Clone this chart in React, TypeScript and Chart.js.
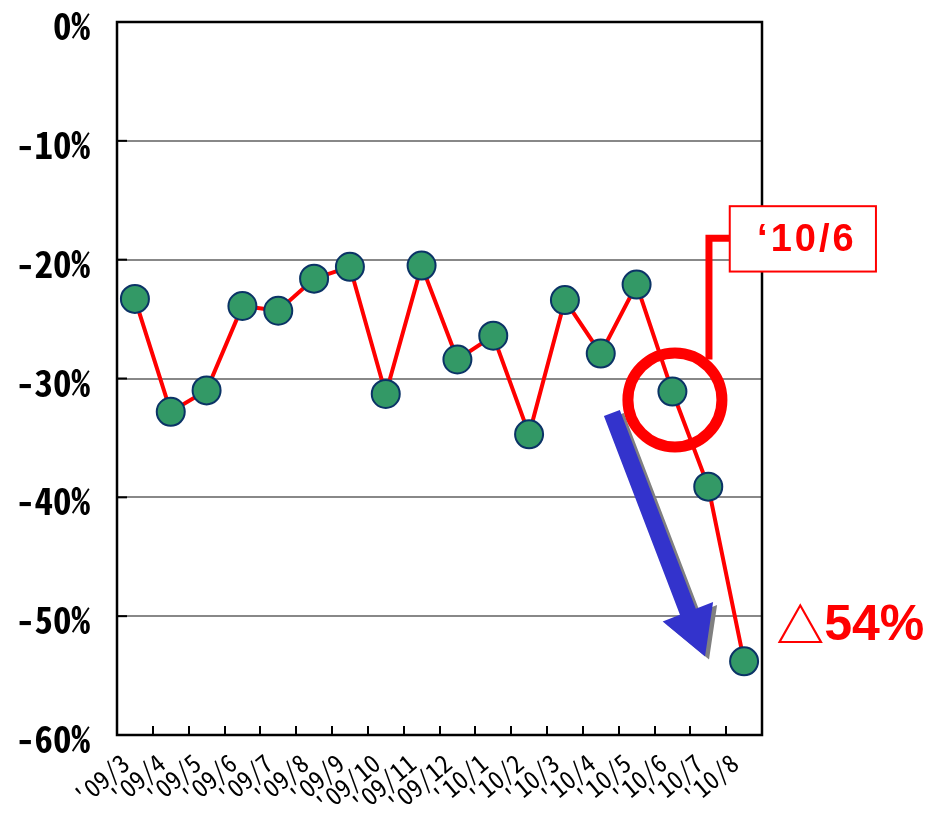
import React, { useEffect, useRef } from "react";
import { Chart, registerables } from "chart.js";

Chart.register(...registerables);

const categories = [
  "'09/3", "'09/4", "'09/5", "'09/6", "'09/7", "'09/8", "'09/9", "'09/10", "'09/11",
  "'09/12", "'10/1", "'10/2", "'10/3", "'10/4", "'10/5", "'10/6", "'10/7", "'10/8",
];
const values = [
  -23.3, -32.8, -31.0, -23.9, -24.3, -21.6, -20.6, -31.3, -20.5,
  -28.4, -26.4, -34.7, -23.4, -27.9, -22.1, -31.1, -39.1, -53.8,
];
const yTickValues = [0, -10, -20, -30, -40, -50, -60];
const yTickLabels = ["0%", "-10%", "-20%", "-30%", "-40%", "-50%", "-60%"];
const calloutLabel = "\u201810/6";
const dropLabel = "\u25B354%";

// annotation anchors in data space (category index, value)
const circleCenter = [15.07, -31.8];
const connectorPath = [[16.02, -28.4], [16.02, -18.2], [16.6, -18.2]];
const calloutBox = [16.6, -15.5, 20.68, -21.0];
const arrowStart = [13.31, -32.9];
const arrowTip = [15.91, -53.4];
const dropLabelAnchor = [17.95, -52.0];

const MONO = "'Noto Sans Mono CJK JP', 'DejaVu Sans Mono', monospace";

const overlay = {
  id: "overlay",
  beforeDatasetsDraw(chart: any) {
    const { ctx, chartArea, scales } = chart;
    const { left, right, top, bottom } = chartArea;
    const x = scales.x;
    const y = scales.y;
    ctx.save();
    ctx.strokeStyle = "#000";
    ctx.lineWidth = 2;
    for (let i = 1; i < categories.length; i++) {
      const px = Math.round((x.getPixelForValue(i - 1) + x.getPixelForValue(i)) / 2);
      ctx.beginPath();
      ctx.moveTo(px, bottom);
      ctx.lineTo(px, bottom - 9);
      ctx.stroke();
    }
    for (const v of yTickValues) {
      const py = y.getPixelForValue(v);
      ctx.beginPath();
      ctx.moveTo(left, py);
      ctx.lineTo(left + 10, py);
      ctx.stroke();
    }
    ctx.lineWidth = 2.5;
    ctx.strokeRect(left, top, right - left, bottom - top);
    ctx.restore();
  },
  afterDatasetsDraw(chart: any) {
    const { ctx, scales } = chart;
    const x = scales.x;
    const y = scales.y;
    const P = (p: number[]) => [x.getPixelForValue(p[0]), y.getPixelForValue(p[1])];
    ctx.save();

    // blue arrow with gray shadow
    const [sx, sy] = P(arrowStart);
    const [tx, ty] = P(arrowTip);
    const dx = tx - sx, dy = ty - sy;
    const len = Math.hypot(dx, dy);
    const ux = dx / len, uy = dy / len;
    const nx = -uy, ny = ux;
    const shaftW = 17, headW = 54, headL = 48;
    const bx = tx - ux * headL, by = ty - uy * headL;
    const poly = (ox: number, oy: number) => {
      ctx.beginPath();
      ctx.moveTo(sx + nx * shaftW / 2 + ox, sy + ny * shaftW / 2 + oy);
      ctx.lineTo(bx + nx * shaftW / 2 + ox, by + ny * shaftW / 2 + oy);
      ctx.lineTo(bx + nx * headW / 2 + ox, by + ny * headW / 2 + oy);
      ctx.lineTo(tx + ox, ty + oy);
      ctx.lineTo(bx - nx * headW / 2 + ox, by - ny * headW / 2 + oy);
      ctx.lineTo(bx - nx * shaftW / 2 + ox, by - ny * shaftW / 2 + oy);
      ctx.lineTo(sx - nx * shaftW / 2 + ox, sy - ny * shaftW / 2 + oy);
      ctx.closePath();
      ctx.fill();
    };
    ctx.fillStyle = "#808080";
    poly(4, 3);
    ctx.fillStyle = "#3333CC";
    poly(0, 0);

    // red circle
    const [cx, cy] = P(circleCenter);
    ctx.strokeStyle = "#FF0000";
    ctx.lineWidth = 11;
    ctx.beginPath();
    ctx.arc(cx, cy, 47, 0, Math.PI * 2);
    ctx.stroke();

    // connector
    ctx.lineWidth = 7;
    ctx.lineJoin = "miter";
    ctx.beginPath();
    connectorPath.forEach((p, i) => {
      const [px, py] = P(p);
      if (i === 0) ctx.moveTo(px, py);
      else ctx.lineTo(px, py);
    });
    ctx.stroke();

    // callout box
    const [bx1, by1] = P([calloutBox[0], calloutBox[1]]);
    const [bx2, by2] = P([calloutBox[2], calloutBox[3]]);
    ctx.fillStyle = "#fff";
    ctx.fillRect(bx1, by1, bx2 - bx1, by2 - by1);
    ctx.lineWidth = 2;
    ctx.strokeRect(bx1, by1, bx2 - bx1, by2 - by1);
    ctx.fillStyle = "#FF0000";
    ctx.font = "bold 38px 'Liberation Sans', Arial, sans-serif";
    (ctx as any).letterSpacing = "3px";
    ctx.textAlign = "center";
    ctx.textBaseline = "middle";
    ctx.fillText(calloutLabel, (bx1 + bx2) / 2 + 4, (by1 + by2) / 2 + 2);
    (ctx as any).letterSpacing = "0px";

    // drop label: triangle glyph + number
    const [lx, ly] = P(dropLabelAnchor);
    ctx.textAlign = "left";
    ctx.textBaseline = "alphabetic";
    const tri = dropLabel.slice(0, 1);
    const rest = dropLabel.slice(1);
    ctx.font = "bold 48px 'Noto Sans CJK JP', sans-serif";
    ctx.fillText(tri, lx - 2, ly + 3);
    const triW = ctx.measureText(tri).width;
    ctx.font = "bold 50px 'Liberation Sans', Arial, sans-serif";
    ctx.fillText(rest, lx - 2 + triW, ly);

    ctx.restore();
  },
};

export default function App() {
  const ref = useRef<HTMLCanvasElement | null>(null);
  useEffect(() => {
    document.body.style.margin = "0";
    const canvas = ref.current!;
    const chart = new Chart(canvas, {
      type: "line",
      data: {
        labels: categories,
        datasets: [
          {
            data: values,
            borderColor: "#FF0000",
            borderWidth: 4,
            pointRadius: 14,
            pointBackgroundColor: "#339966",
            pointBorderColor: "#0B3366",
            pointBorderWidth: 2,
            tension: 0,
          },
        ],
      },
      options: {
        responsive: false,
        animation: false,
        devicePixelRatio: 1,
        layout: { padding: { left: 0, right: 170, top: 22, bottom: 0 } },
        plugins: { legend: { display: false }, tooltip: { enabled: false } },
        scales: {
          x: {
            offset: true,
            grid: { display: false, drawTicks: false },
            border: { display: false },
            ticks: {
              autoSkip: false,
              minRotation: 40,
              maxRotation: 40,
              padding: 5,
              color: "#000",
              font: { family: MONO, size: 25 },
              callback: (_v: any, i: number) => categories[i] + " ",
            },
            afterFit: (s: any) => {
              s.height = 82;
              s.paddingLeft = 0;
              s.paddingRight = 0;
            },
          },
          y: {
            min: -60,
            max: 0,
            afterBuildTicks: (s: any) => {
              s.ticks = yTickValues.map((v) => ({ value: v }));
            },
            grid: { color: "#888888", lineWidth: 2, drawTicks: false },
            border: { display: false },
            ticks: {
              padding: 27,
              labelOffset: 4,
              color: "#000",
              font: { family: MONO, size: 37, weight: "bold" },
              callback: (v: any) => yTickLabels[yTickValues.indexOf(Number(v))],
            },
            afterFit: (s: any) => {
              s.width = 117;
              s.paddingTop = 0;
              s.paddingBottom = 0;
            },
          },
        },
      },
      plugins: [overlay],
    });
    return () => chart.destroy();
  }, []);
  return <canvas ref={ref} width={932} height={817} style={{ display: "block" }} />;
}
